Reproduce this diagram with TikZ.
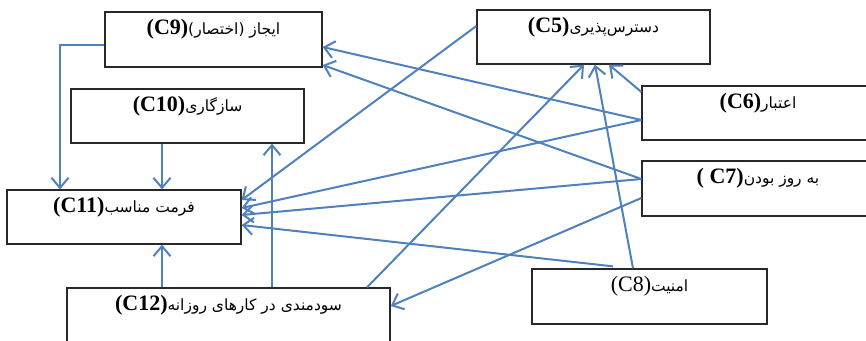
\documentclass[tikz,border=0pt]{standalone}
\usepackage{fontspec}
\setmainfont{Liberation Serif}
\newfontfamily\arabicfont[Script=Arabic]{DejaVu Sans}
\TeXXeTstate=1
\usetikzlibrary{arrows.meta}
\definecolor{lnblue}{RGB}{79,129,189}
\definecolor{boxline}{RGB}{40,40,40}
\newcommand\fatxt[2]{{\arabicfont\fontsize{15.5}{18}\selectfont\beginR #1\beginL{\rmfamily\bfseries\fontsize{22}{24}\selectfont #2}\endL\endR}}
\newcommand\fatxtr[2]{{\arabicfont\fontsize{15.5}{18}\selectfont\beginR #1\beginL{\rmfamily\fontsize{22}{24}\selectfont #2}\endL\endR}}
\tikzset{
  box/.style={draw=boxline, line width=1.3pt, rectangle, inner sep=0pt, fill=white},
  ttl/.style={anchor=north, yshift=-7.5pt, inner sep=0pt, text=black},
  arr/.style={draw=lnblue, line width=2pt, -{Straight Barb[length=10pt,width=17pt]}},
}
\newcommand\bx[6]{%
  \node[box, minimum width={#4-#2}, minimum height={#5-#3},
        label={[ttl]north:#6}] (#1) at ({(#2+#4)/2},{(#3+#5)/2}) {};}
\begin{document}
\begin{tikzpicture}[x=1pt,y=-1pt]
\useasboundingbox (0,0) rectangle (866,340);
\clip (0,0) rectangle (866,340);
\fill[white] (0,0) rectangle (866,340);
% boxes
\bx{c9}{105}{12}{322}{67}{\fatxt{ایجاز (اختصار)}{(C9)}}
\bx{c5}{477}{10}{710}{64}{\fatxt{دسترس‌پذیری}{(C5)}}
\bx{c10}{71}{89}{304}{143}{\fatxt{سازگاری}{(C10)}}
\bx{c6}{642}{86}{874}{140}{\fatxt{اعتبار}{(C6)}}
\bx{c7}{642}{161}{874}{216}{\fatxt{به روز بودن}{( C7)}}
\bx{c11}{7}{190}{241}{244}{\fatxt{فرمت مناسب}{(C11)}}
\bx{c12}{67}{288}{390}{344}{\fatxt{سودمندی در کارهای روزانه}{(C12)}}
\bx{c8}{532}{269}{767}{324}{\fatxtr{امنیت}{(C8)}}
% connectors
\draw[arr] ([yshift=-5.5pt]c9.west) -| ([xshift=-64pt]c11.north);
\draw[arr] ([xshift=38pt]c11.north |- c10.south) -- ([xshift=38pt]c11.north);
\draw[arr] ([xshift=38pt]c11.south |- c12.north) -- ([xshift=38pt]c11.south);
\draw[arr] ([xshift=84.5pt]c10.south |- c12.north) -- ([xshift=84.5pt]c10.south);
\draw[arr] ([yshift=11pt]c5.west) -- ([yshift=17pt]c11.east);
\draw[arr] ([yshift=-7pt]c6.west) -- ([yshift=-7.5pt]c9.east);
\draw[arr] ([yshift=-7pt]c6.west) -- ([yshift=9pt]c11.east);
\draw[arr] ([yshift=9.5pt]c7.west) -- ([yshift=-25.5pt]c9.east);
\draw[arr] ([yshift=9.5pt]c7.west) -- ([yshift=2pt]c11.east);
\draw[arr] ([yshift=-9.5pt]c7.west) -- ([yshift=10pt]c12.east);
\draw[arr] ([xshift=-36.5pt,yshift=2pt]c8.north) -- ([yshift=-8pt]c11.east);
\draw[arr] ([xshift=-16.5pt]c8.north) -- ([xshift=1.5pt]c5.south);
\draw[arr] ([xshift=138.5pt]c12.north) -- ([xshift=-9.5pt]c5.south);
\draw[arr] ([yshift=21pt]c6.west) -- ([xshift=15.5pt]c5.south);
\end{tikzpicture}
\end{document}
